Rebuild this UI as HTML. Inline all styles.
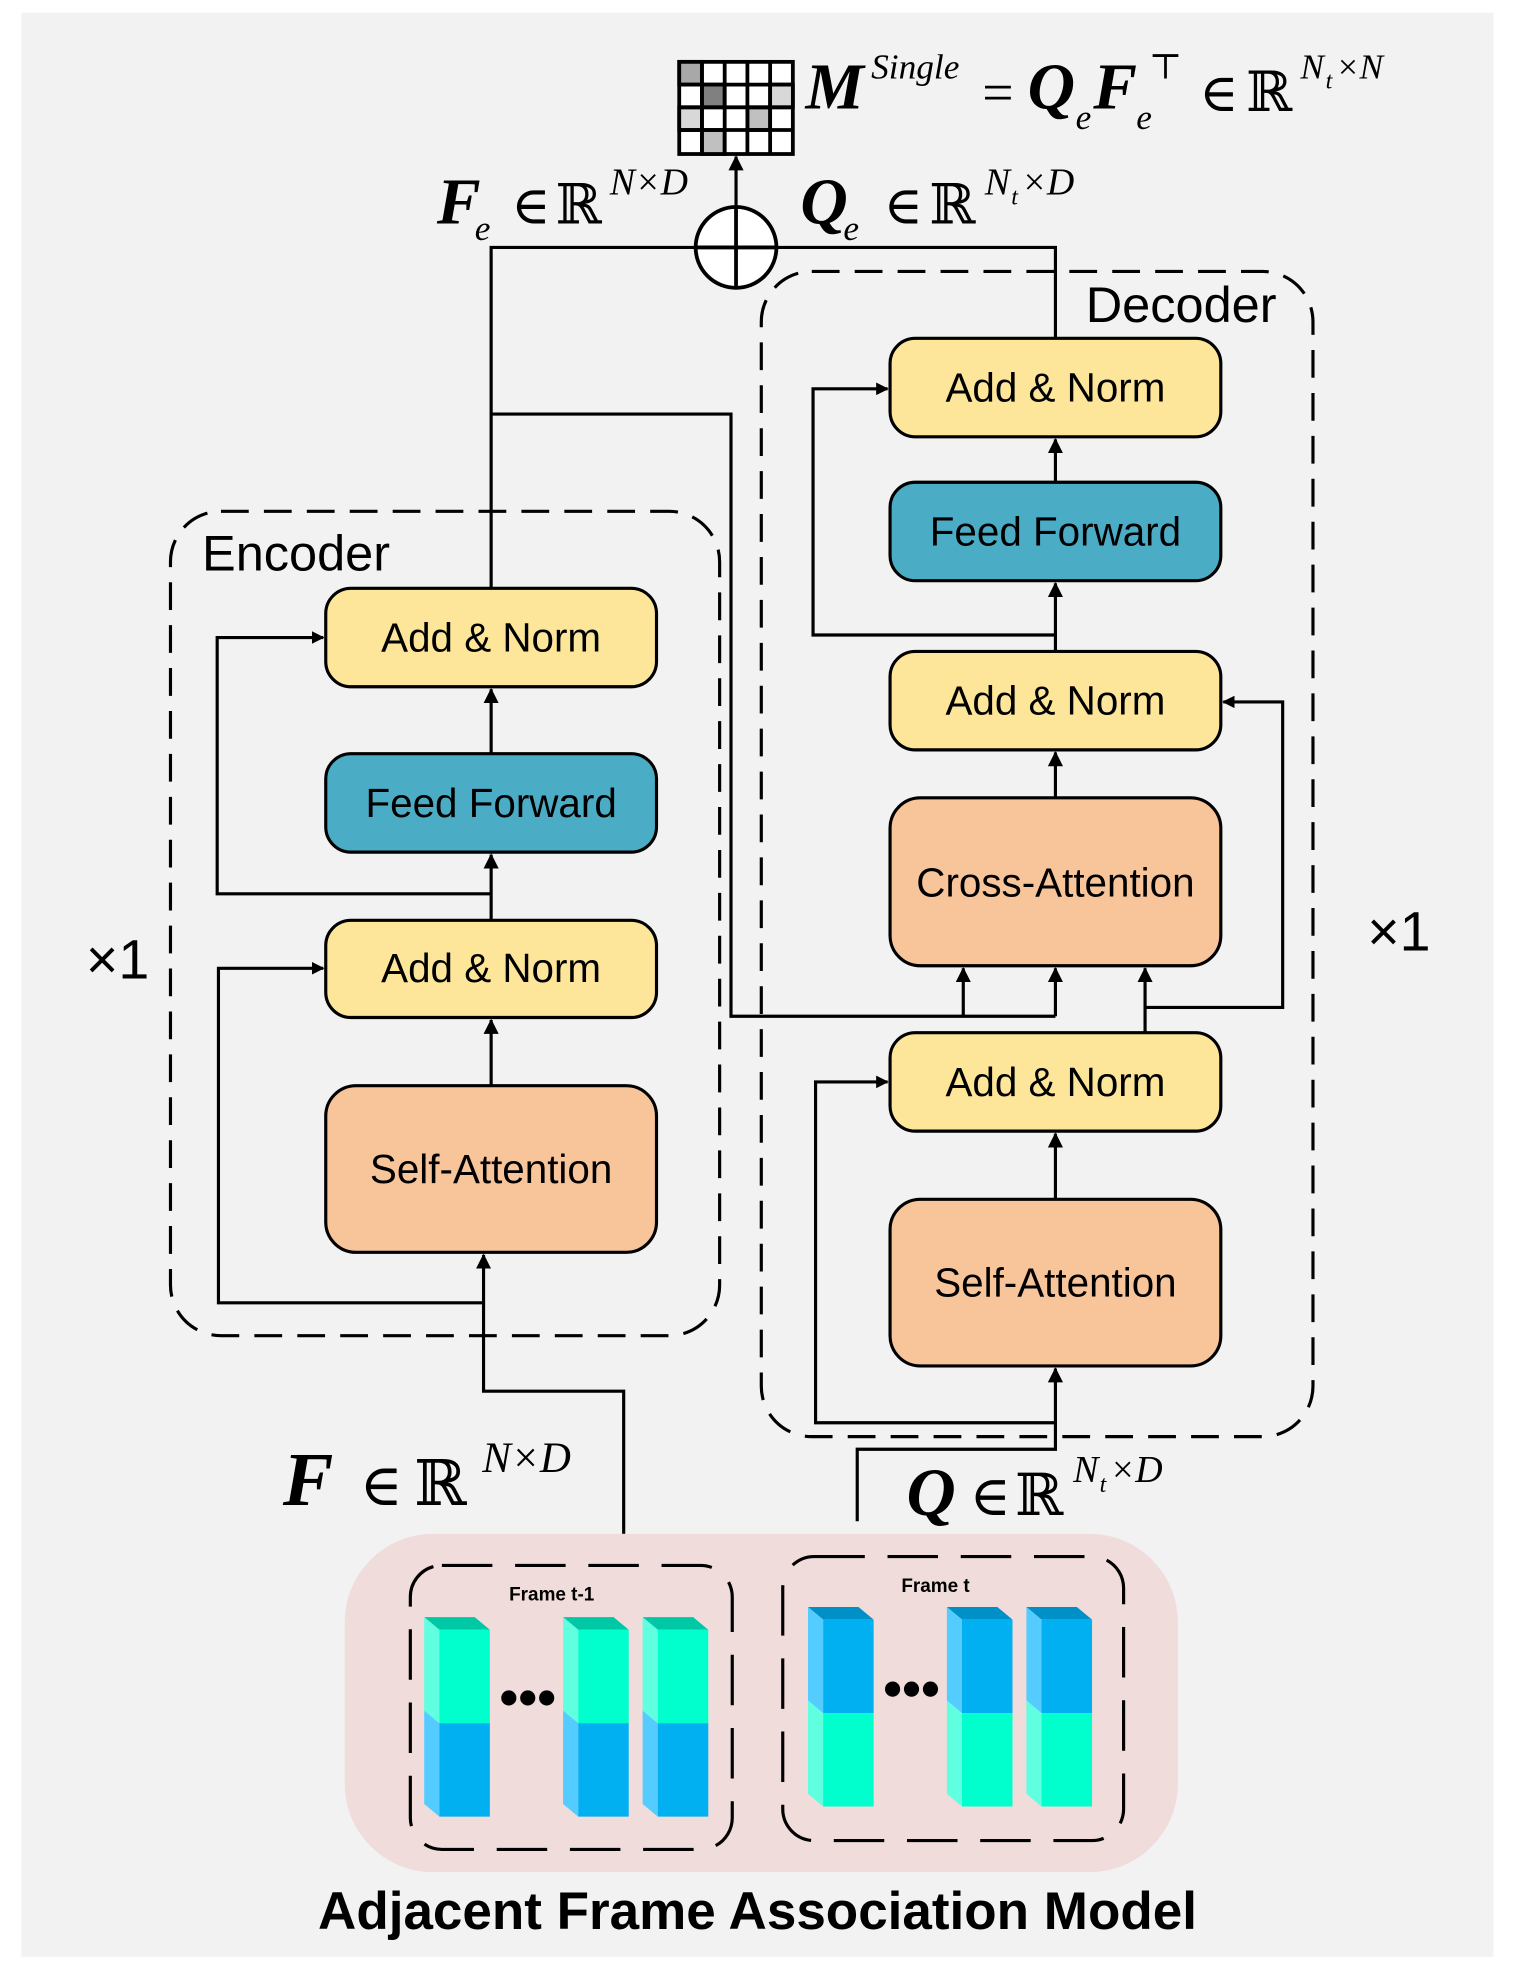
<!DOCTYPE html>
<html><head><meta charset="utf-8"><style>html,body{margin:0;padding:0;background:#fff}svg{display:block}</style></head>
<body>
<svg width="1515" height="1982" viewBox="0 0 1200 1570" xmlns="http://www.w3.org/2000/svg">
<defs>
<marker id="a" markerWidth="10" markerHeight="10" refX="9" refY="5" orient="auto" markerUnits="userSpaceOnUse"><path d="M0,0 L10,5 L0,10 Z" fill="#000"/></marker>
<marker id="b" markerWidth="12" markerHeight="14" refX="11" refY="7" orient="auto" markerUnits="userSpaceOnUse"><path d="M0,1 L12,7 L0,13 Z" fill="#000"/></marker>
</defs>
<rect x="17" y="10" width="1166" height="1540" fill="#f2f2f2"/>
<g fill="none" stroke="#000" stroke-width="2.5" stroke-dasharray="22,12">
<rect x="135" y="405" width="435" height="653" rx="40"/>
<rect x="603" y="215" width="437" height="923" rx="40"/>
</g>
<g font-family="'Liberation Sans',sans-serif" fill="#000">
<text x="160" y="452" font-size="40">Encoder</text>
<text x="860" y="255" font-size="40">Decoder</text>
<text x="68" y="775" font-size="44">×1</text>
<text x="1083" y="753" font-size="44">×1</text>
</g>
<g stroke="#000" stroke-width="2.5">
<rect x="258" y="466" width="262" height="78" rx="20" fill="#fde699"/>
<rect x="258" y="597" width="262" height="78" rx="20" fill="#4bacc6"/>
<rect x="258" y="729" width="262" height="77" rx="20" fill="#fde699"/>
<rect x="258" y="860" width="262" height="132" rx="24" fill="#f8c59b"/>
<rect x="705" y="268" width="262" height="78" rx="20" fill="#fde699"/>
<rect x="705" y="382" width="262" height="78" rx="20" fill="#4bacc6"/>
<rect x="705" y="516" width="262" height="78" rx="20" fill="#fde699"/>
<rect x="705" y="632" width="262" height="133" rx="24" fill="#f8c59b"/>
<rect x="705" y="818" width="262" height="78" rx="20" fill="#fde699"/>
<rect x="705" y="950" width="262" height="132" rx="24" fill="#f8c59b"/>
</g>
<g font-family="'Liberation Sans',sans-serif" font-size="32" text-anchor="middle" fill="#000">
<text x="389" y="516">Add &amp; Norm</text>
<text x="389" y="647">Feed Forward</text>
<text x="389" y="778">Add &amp; Norm</text>
<text x="389" y="937">Self-Attention</text>
<text x="836" y="318">Add &amp; Norm</text>
<text x="836" y="432">Feed Forward</text>
<text x="836" y="566">Add &amp; Norm</text>
<text x="836" y="710">Cross-Attention</text>
<text x="836" y="868">Add &amp; Norm</text>
<text x="836" y="1027">Self-Attention</text>
</g>
<g fill="none" stroke="#000" stroke-width="2.5">
<polyline points="494,1215 494,1102 383,1102 383,994" marker-end="url(#b)"/>
<polyline points="383,1032 173,1032 173,767 256,767" marker-end="url(#a)"/>
<line x1="389" y1="860" x2="389" y2="808" marker-end="url(#b)"/>
<line x1="389" y1="729" x2="389" y2="677" marker-end="url(#b)"/>
<polyline points="389,708 172,708 172,505 256,505" marker-end="url(#a)"/>
<line x1="389" y1="597" x2="389" y2="546" marker-end="url(#b)"/>
<polyline points="389,466 389,196 551,196"/>
<polyline points="389,328 579,328 579,805 836,805"/>
<line x1="763" y1="805" x2="763" y2="767" marker-end="url(#b)"/>
<line x1="836" y1="805" x2="836" y2="767" marker-end="url(#b)"/>
<polyline points="679,1205 679,1148 836,1148 836,1084" marker-end="url(#b)"/>
<polyline points="836,1127 646,1127 646,857 703,857" marker-end="url(#a)"/>
<line x1="836" y1="950" x2="836" y2="898" marker-end="url(#b)"/>
<polyline points="907,818 907,767" marker-end="url(#b)"/>
<polyline points="907,798 1016,798 1016,556 969,556" marker-end="url(#a)"/>
<line x1="836" y1="632" x2="836" y2="596" marker-end="url(#b)"/>
<line x1="836" y1="516" x2="836" y2="462" marker-end="url(#b)"/>
<polyline points="836,503 644,503 644,308 703,308" marker-end="url(#a)"/>
<line x1="836" y1="382" x2="836" y2="348" marker-end="url(#b)"/>
<polyline points="836,268 836,196 615,196"/>
<line x1="583" y1="164" x2="583" y2="124" marker-end="url(#b)"/>
</g>
<circle cx="583" cy="196" r="32" fill="#fff" stroke="#000" stroke-width="3"/>
<line x1="583" y1="164" x2="583" y2="228" stroke="#000" stroke-width="3"/>
<line x1="551" y1="196" x2="615" y2="196" stroke="#000" stroke-width="3"/>
<g stroke="#000" stroke-width="3">
<rect x="538" y="49" width="90" height="73" fill="#fff"/>
<rect x="538" y="49" width="18" height="18" fill="#a8a8a8"/>
<rect x="556" y="67" width="18" height="18" fill="#808080"/>
<rect x="610" y="67" width="18" height="18" fill="#d8d8d8"/>
<rect x="538" y="85" width="18" height="18" fill="#d8d8d8"/>
<rect x="592" y="85" width="18" height="18" fill="#c0c0c0"/>
<rect x="556" y="103" width="18" height="19" fill="#c0c0c0"/>
<line x1="556" y1="49" x2="556" y2="122"/><line x1="574" y1="49" x2="574" y2="122"/>
<line x1="592" y1="49" x2="592" y2="122"/><line x1="610" y1="49" x2="610" y2="122"/>
<line x1="538" y1="67" x2="628" y2="67"/><line x1="538" y1="85" x2="628" y2="85"/><line x1="538" y1="103" x2="628" y2="103"/>
</g>
<g font-family="'Liberation Serif','DejaVu Serif',serif" fill="#000">
<text x="638" y="86" font-size="52" font-weight="bold" font-style="italic">M</text>
<text x="690" y="62" font-size="28" font-style="italic">Single</text>
<text x="778" y="88" font-size="44">=</text>
<text x="814" y="86" font-size="52" font-weight="bold" font-style="italic">Q</text>
<text x="852" y="102" font-size="28" font-style="italic">e</text>
<text x="866" y="86" font-size="52" font-weight="bold" font-style="italic">F</text>
<text x="900" y="102" font-size="28" font-style="italic">e</text>
<text x="910" y="62" font-size="28">⊤</text>
<text x="950" y="88" font-size="42">∈</text>
<text x="987" y="88" font-size="44" font-family="'DejaVu Serif',serif">ℝ</text>
<text x="1030" y="62" font-size="28" font-style="italic">N</text>
<text x="1050" y="70" font-size="19" font-style="italic">t</text>
<text x="1058" y="62" font-size="28" font-style="italic">×N</text>

<text x="346" y="177" font-size="52" font-weight="bold" font-style="italic">F</text>
<text x="376" y="190" font-size="28" font-style="italic">e</text>
<text x="405" y="177" font-size="42">∈</text>
<text x="440" y="177" font-size="44" font-family="'DejaVu Serif',serif">ℝ</text>
<text x="483" y="154" font-size="30" font-style="italic">N×D</text>

<text x="634" y="177" font-size="52" font-weight="bold" font-style="italic">Q</text>
<text x="668" y="190" font-size="28" font-style="italic">e</text>
<text x="700" y="177" font-size="42">∈</text>
<text x="736" y="177" font-size="44" font-family="'DejaVu Serif',serif">ℝ</text>
<text x="780" y="154" font-size="30" font-style="italic">N</text>
<text x="801" y="162" font-size="19" font-style="italic">t</text>
<text x="809" y="154" font-size="30" font-style="italic">×D</text>

<text x="224" y="1192" font-size="60" font-weight="bold" font-style="italic">F</text>
<text x="285" y="1192" font-size="46">∈</text>
<text x="328" y="1192" font-size="50" font-family="'DejaVu Serif',serif">ℝ</text>
<text x="382" y="1166" font-size="34" font-style="italic">N×D</text>

<text x="718" y="1200" font-size="54" font-weight="bold" font-style="italic">Q</text>
<text x="768" y="1200" font-size="44">∈</text>
<text x="804" y="1200" font-size="46" font-family="'DejaVu Serif',serif">ℝ</text>
<text x="850" y="1174" font-size="30" font-style="italic">N</text>
<text x="871" y="1182" font-size="19" font-style="italic">t</text>
<text x="879" y="1174" font-size="30" font-style="italic">×D</text>
</g>
<rect x="273" y="1215" width="660" height="268" rx="70" fill="#f0dcda"/>
<g fill="none" stroke="#000" stroke-width="2.5" stroke-dasharray="40,18">
<rect x="325" y="1240" width="255" height="225" rx="25"/>
<rect x="620" y="1233" width="270" height="225" rx="25"/>
</g>
<g font-family="'Liberation Sans',sans-serif" font-weight="bold" font-size="15" fill="#000" text-anchor="middle">
<text x="437" y="1268">Frame t-1</text>
<text x="741" y="1261">Frame t</text>
</g>
<g>
<g transform="translate(336,1281)">
<polygon points="0,0 40,0 52,10 12,10" fill="#00c8a5"/>
<polygon points="0,0 12,10 12,84 0,74" fill="#5fffe0"/>
<polygon points="0,74 12,84 12,158 0,148" fill="#55ccff"/>
<rect x="12" y="10" width="40" height="74" fill="#00ffcc"/>
<rect x="12" y="84" width="40" height="74" fill="#00b0f0"/>
</g>
<g transform="translate(446,1281)">
<polygon points="0,0 40,0 52,10 12,10" fill="#00c8a5"/>
<polygon points="0,0 12,10 12,84 0,74" fill="#5fffe0"/>
<polygon points="0,74 12,84 12,158 0,148" fill="#55ccff"/>
<rect x="12" y="10" width="40" height="74" fill="#00ffcc"/>
<rect x="12" y="84" width="40" height="74" fill="#00b0f0"/>
</g>
<g transform="translate(509,1281)">
<polygon points="0,0 40,0 52,10 12,10" fill="#00c8a5"/>
<polygon points="0,0 12,10 12,84 0,74" fill="#5fffe0"/>
<polygon points="0,74 12,84 12,158 0,148" fill="#55ccff"/>
<rect x="12" y="10" width="40" height="74" fill="#00ffcc"/>
<rect x="12" y="84" width="40" height="74" fill="#00b0f0"/>
</g>
<g transform="translate(640,1273)">
<polygon points="0,0 40,0 52,10 12,10" fill="#0090c8"/>
<polygon points="0,0 12,10 12,84 0,74" fill="#55ccff"/>
<polygon points="0,74 12,84 12,158 0,148" fill="#5fffe0"/>
<rect x="12" y="10" width="40" height="74" fill="#00b0f0"/>
<rect x="12" y="84" width="40" height="74" fill="#00ffcc"/>
</g>
<g transform="translate(750,1273)">
<polygon points="0,0 40,0 52,10 12,10" fill="#0090c8"/>
<polygon points="0,0 12,10 12,84 0,74" fill="#55ccff"/>
<polygon points="0,74 12,84 12,158 0,148" fill="#5fffe0"/>
<rect x="12" y="10" width="40" height="74" fill="#00b0f0"/>
<rect x="12" y="84" width="40" height="74" fill="#00ffcc"/>
</g>
<g transform="translate(813,1273)">
<polygon points="0,0 40,0 52,10 12,10" fill="#0090c8"/>
<polygon points="0,0 12,10 12,84 0,74" fill="#55ccff"/>
<polygon points="0,74 12,84 12,158 0,148" fill="#5fffe0"/>
<rect x="12" y="10" width="40" height="74" fill="#00b0f0"/>
<rect x="12" y="84" width="40" height="74" fill="#00ffcc"/>
</g>
</g>
<g fill="#000">
<circle cx="403" cy="1345" r="6"/><circle cx="418" cy="1345" r="6"/><circle cx="433" cy="1345" r="6"/>
<circle cx="707" cy="1338" r="6"/><circle cx="722" cy="1338" r="6"/><circle cx="737" cy="1338" r="6"/>
</g>
<text x="600" y="1528" font-family="'Liberation Sans',sans-serif" font-weight="bold" font-size="42" text-anchor="middle" fill="#000">Adjacent Frame Association Model</text>
</svg>
</body></html>
